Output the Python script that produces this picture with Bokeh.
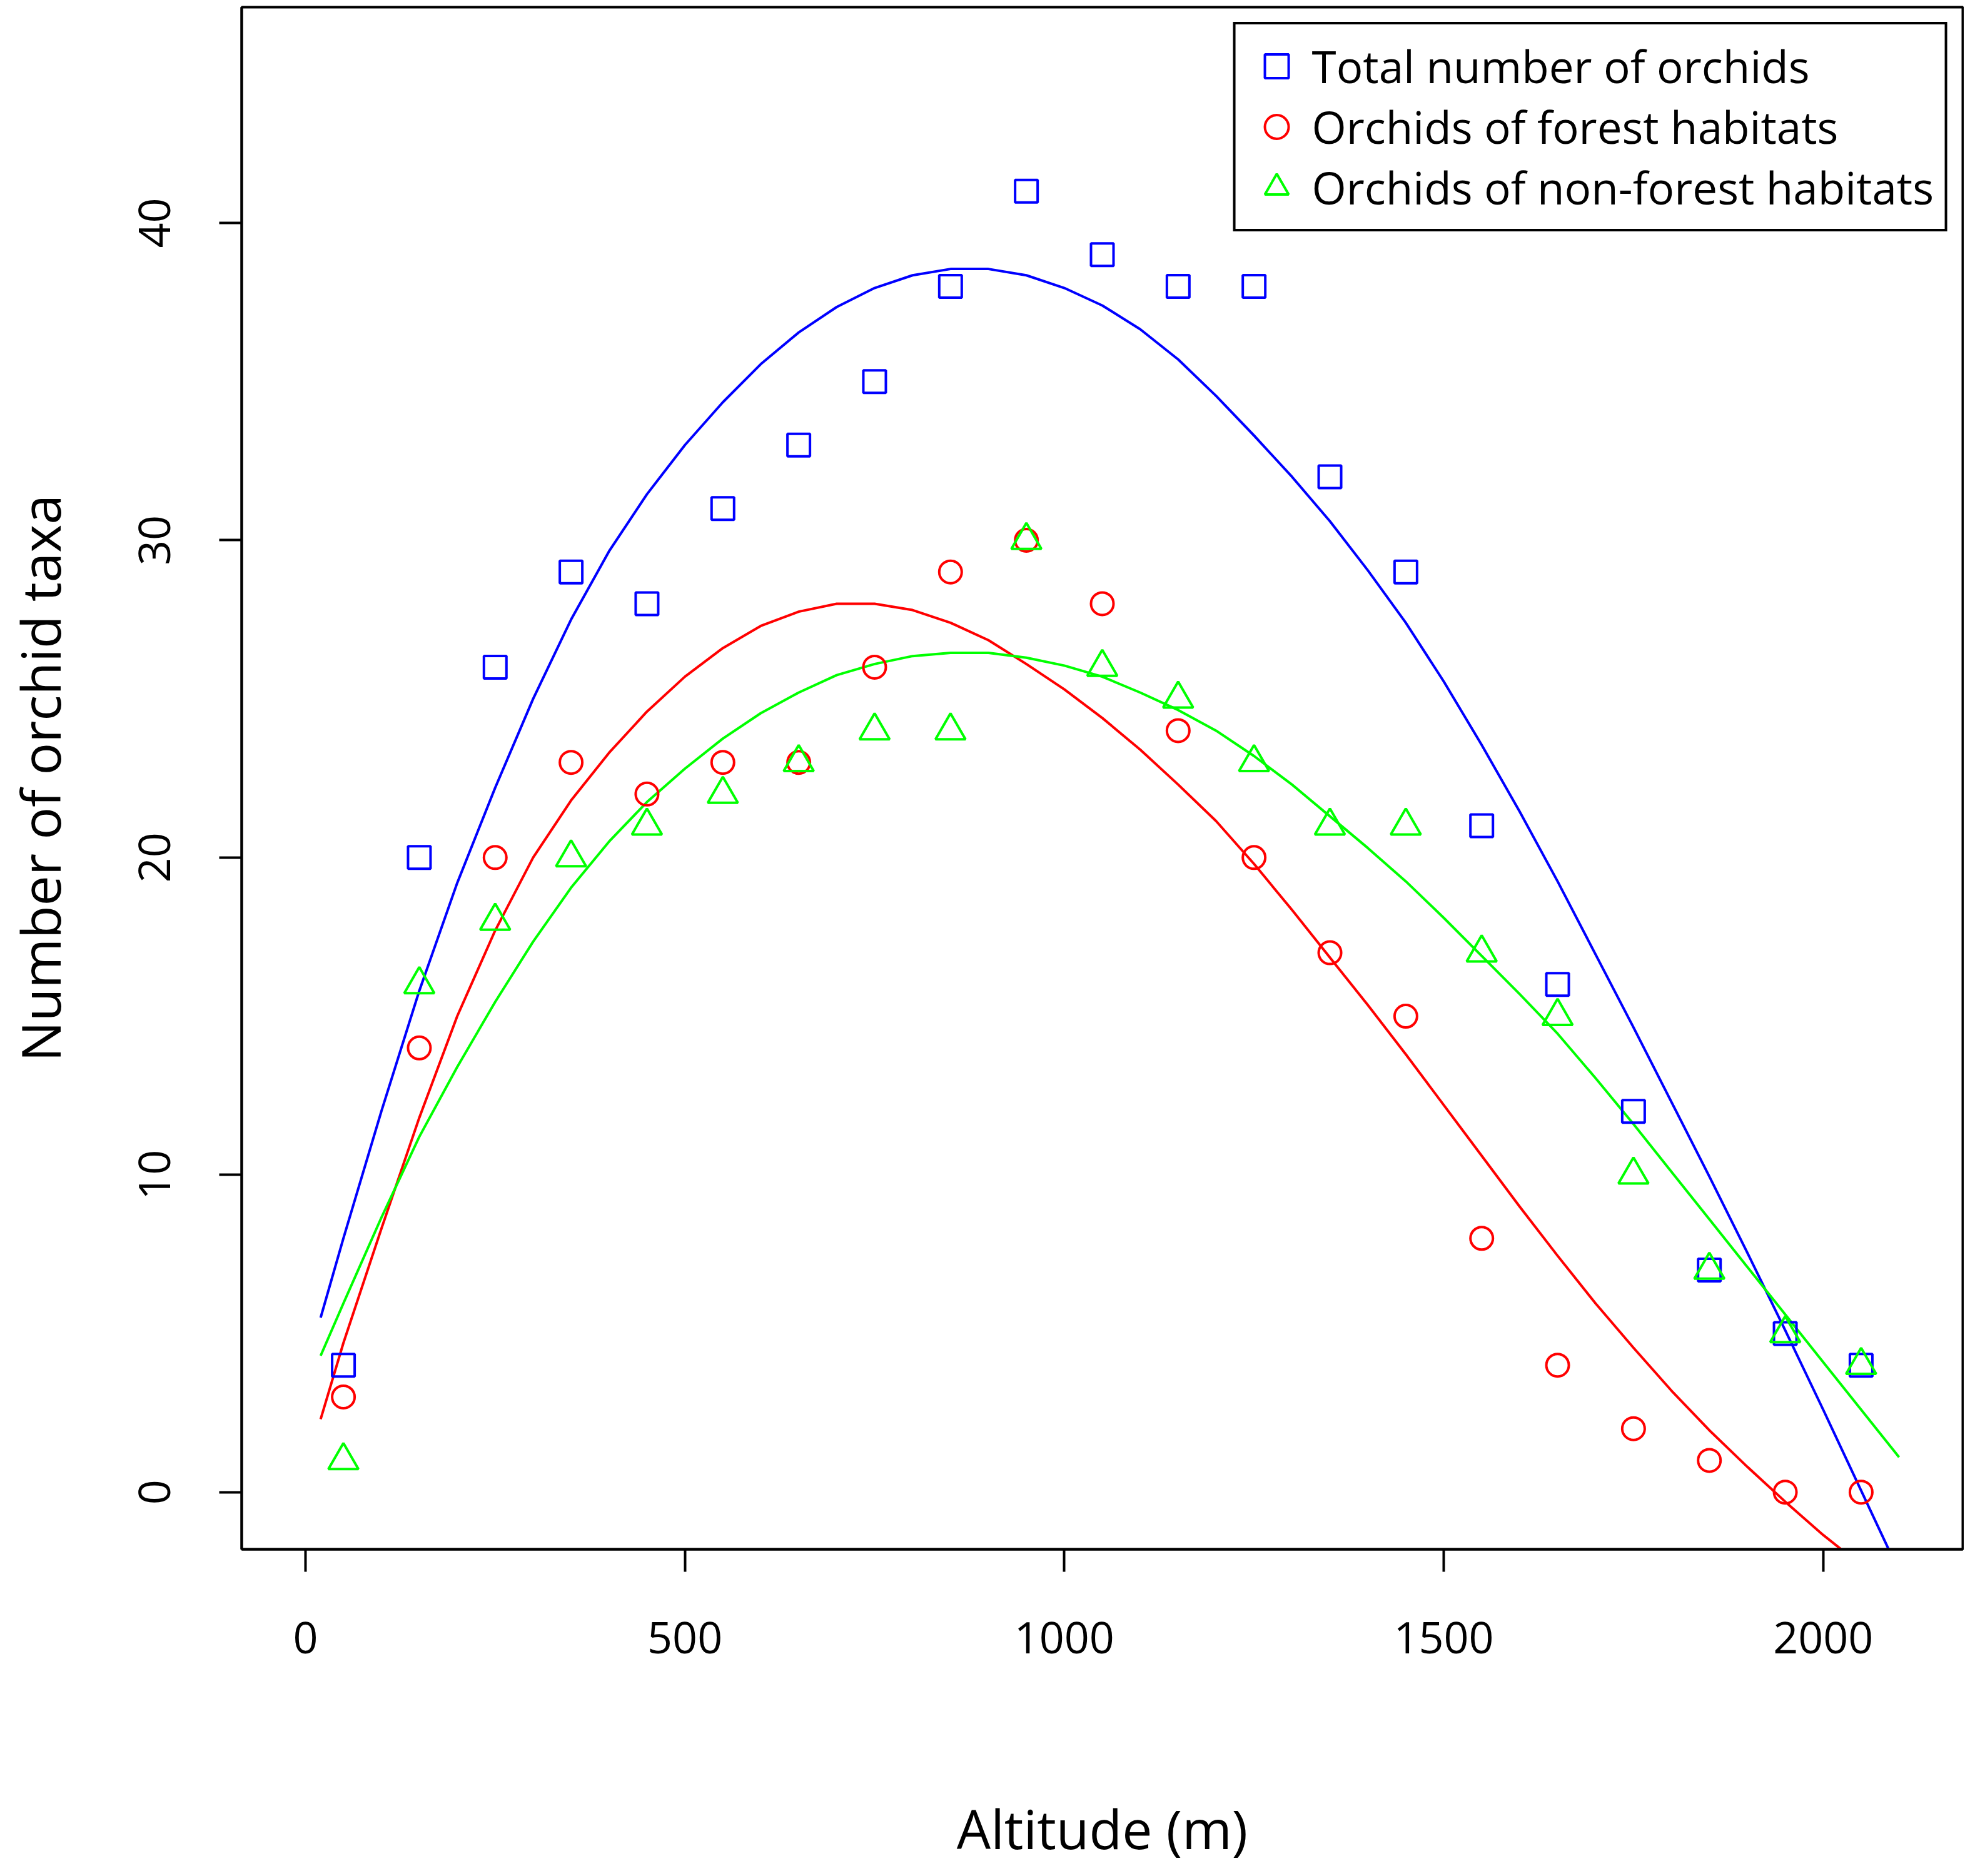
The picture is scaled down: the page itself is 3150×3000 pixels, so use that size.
from bokeh.plotting import figure
from bokeh.models import Range1d, FixedTicker, Legend, LegendItem
from bokeh.embed import file_html
from bokeh.resources import INLINE

# ---- observed data (altitude belts, 100 m) ----
altitude = [50, 150, 250, 350, 450, 550, 650, 750, 850, 950, 1050,
            1150, 1250, 1350, 1450, 1550, 1650, 1750, 1850, 1950, 2050]
total = [4, 20, 26, 29, 28, 31, 33, 35, 38, 41, 39,
         38, 38, 32, 29, 21, 16, 12, 7, 5, 4]
forest = [3, 14, 20, 23, 22, 23, 23, 26, 29, 30, 28,
          24, 20, 17, 15, 8, 4, 2, 1, 0, 0]
nonforest = [1, 16, 18, 20, 21, 22, 23, 24, 24, 30, 26,
             25, 23, 21, 21, 17, 15, 10, 7, 5, 4]

# ---- fitted curves ----
fit_x = [20, 50, 100, 150, 200, 250, 300, 350, 400, 450, 500,
         550, 600, 650, 700, 750, 800, 850, 900, 950, 1000,
         1050, 1100, 1150, 1200, 1250, 1300, 1350, 1400, 1450, 1500,
         1550, 1600, 1650, 1700, 1750, 1800, 1850, 1900, 1950, 2000,
         2050, 2100]
fit_total = [5.5, 8.0, 12.0, 15.8, 19.2, 22.2, 25.0, 27.5, 29.65, 31.45, 33.0,
             34.35, 35.55, 36.55, 37.35, 37.95, 38.35, 38.55, 38.55, 38.35, 37.95,
             37.4, 36.65, 35.7, 34.55, 33.3, 32.0, 30.6, 29.05, 27.4, 25.55,
             23.55, 21.45, 19.25, 16.95, 14.65, 12.3, 9.95, 7.55, 5.1, 2.6,
             0.05, -2.5]
fit_forest = [2.3, 4.7, 8.3, 11.8, 15.0, 17.7, 20.0, 21.8, 23.3, 24.6, 25.7,
              26.6, 27.3, 27.75, 28.0, 28.0, 27.8, 27.4, 26.85, 26.1, 25.3,
              24.4, 23.4, 22.3, 21.15, 19.8, 18.35, 16.85, 15.35, 13.8, 12.2,
              10.6, 9.0, 7.45, 5.95, 4.55, 3.2, 1.95, 0.8, -0.3, -1.35,
              -2.3, -3.1]
fit_nonforest = [4.3, 5.95, 8.65, 11.2, 13.4, 15.45, 17.35, 19.05, 20.5, 21.75, 22.8,
                 23.75, 24.55, 25.2, 25.75, 26.1, 26.35, 26.45, 26.45, 26.3, 26.05,
                 25.7, 25.2, 24.65, 24.0, 23.2, 22.3, 21.3, 20.3, 19.25, 18.1,
                 16.9, 15.7, 14.45, 13.05, 11.6, 10.1, 8.6, 7.1, 5.6, 4.1,
                 2.6, 1.1]

x_ticks = [0, 500, 1000, 1500, 2000]
y_ticks = [0, 10, 20, 30, 40]
labels = ["Total number of orchids", "Orchids of forest habitats",
          "Orchids of non-forest habitats"]
x_title = "Altitude (m)"
y_title = "Number of orchid taxa"
BLUE, RED, GREEN = "#0000FF", "#FF0000", "#00FF00"
FONT = "Open Sans"

p = figure(width=3140, height=2984, title=None,
           x_range=Range1d(-84, 2184), y_range=Range1d(-1.8, 46.8),
           output_backend="svg", toolbar_location=None,
           min_border_left=386, min_border_right=2,
           min_border_top=11, min_border_bottom=505)
p.background_fill_color = "white"
p.border_fill_color = "white"
p.outline_line_color = "black"
p.outline_line_width = 4
p.xgrid.visible = False
p.ygrid.visible = False

for ax in (p.xaxis[0], p.yaxis[0]):
    ax.major_tick_out = 36
    ax.major_tick_in = 0
    ax.minor_tick_out = 0
    ax.minor_tick_in = 0
    ax.major_tick_line_width = 4
    ax.major_tick_line_color = "black"
    ax.axis_line_width = 4
    ax.axis_line_color = "black"
    ax.major_label_text_font = FONT
    ax.major_label_text_font_size = "70px"
    ax.major_label_text_color = "black"
    ax.axis_label_text_font = FONT
    ax.axis_label_text_font_size = "86px"
    ax.axis_label_text_font_style = "normal"
    ax.axis_label_text_color = "black"

xa, ya = p.xaxis[0], p.yaxis[0]
xa.ticker = FixedTicker(ticks=x_ticks)
ya.ticker = FixedTicker(ticks=y_ticks)
ya.major_label_orientation = "vertical"
xa.major_label_standoff = 80
ya.major_label_standoff = 78
xa.axis_label = x_title
xa.axis_label_standoff = 218
ya.axis_label = y_title
ya.axis_label_standoff = 98

# fitted curves
p.line(fit_x, fit_total, line_color=BLUE, line_width=4, line_join="round")
p.line(fit_x, fit_forest, line_color=RED, line_width=4, line_join="round")
p.line(fit_x, fit_nonforest, line_color=GREEN, line_width=4, line_join="round")

# observed points
r1 = p.scatter(altitude, total, marker="square", size=36, fill_color=None,
               line_color=BLUE, line_width=4)
r2 = p.scatter(altitude, forest, marker="circle", size=36, fill_color=None,
               line_color=RED, line_width=4)
r3 = p.scatter(altitude, nonforest, marker="triangle", size=48, fill_color=None,
               line_color=GREEN, line_width=4)

legend = Legend(items=[LegendItem(label=labels[0], renderers=[r1]),
                       LegendItem(label=labels[1], renderers=[r2]),
                       LegendItem(label=labels[2], renderers=[r3])],
                location="top_right", margin=24, padding=18, spacing=0,
                glyph_width=95, glyph_height=95, label_height=95,
                label_standoff=9, label_text_font=FONT,
                label_text_font_size="71px", label_text_color="black",
                border_line_color="black", border_line_width=4,
                border_line_alpha=1.0,
                background_fill_color="white", background_fill_alpha=1.0)
p.add_layout(legend)

open("out.html", "w").write(file_html(p, INLINE))
